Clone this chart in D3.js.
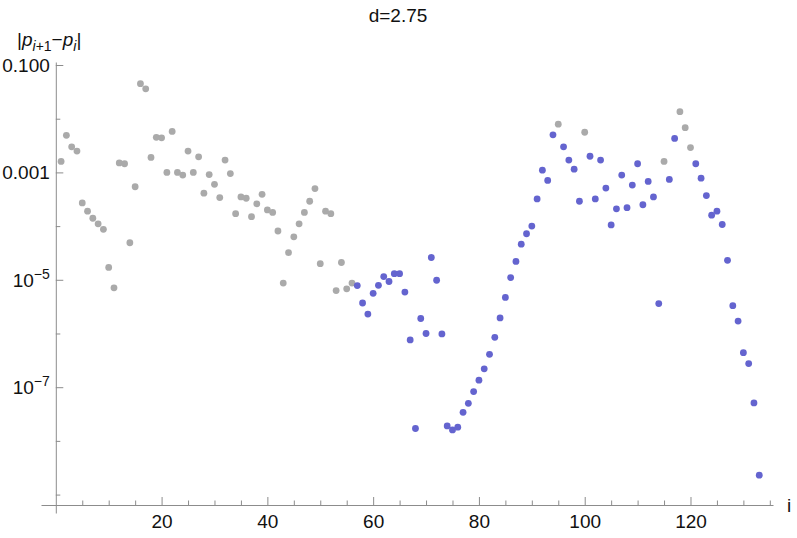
<!DOCTYPE html>
<html lang="en">
<head>
    <meta charset="utf-8">
    <title>d=2.75</title>
    <script type="text/javascript" src="https://d3js.org/d3.v7.min.js"></script>
    <style>
     body { margin: 0; background: white; }
     text { font-family: "Liberation Sans", Arial, sans-serif; fill: #111; }
     .axis path, .axis line { stroke: #8c8c8c; }
    </style>
</head>
<body>
    <div id="chart"></div>
    <script type="text/javascript">
        // gray series: index i and |p_{i+1} - p_i|
        const grayI = [1,2,3,4,5,6,7,8,9,10,11,12,13,14,15,16,17,18,19,20,
                       21,22,23,24,25,26,27,28,29,30,31,32,33,34,35,36,37,38,39,40,
                       41,42,43,44,45,46,47,48,49,50,51,52,53,54,55,56,
                       95,100,115,118,119,120];
        const grayV = [1.6e-3,4.9e-3,3.0e-3,2.5e-3,2.7e-4,1.9e-4,1.4e-4,1.1e-4,8.7e-5,1.7e-5,
                       7.1e-6,1.5e-3,1.45e-3,4.9e-5,5.4e-4,4.5e-2,3.6e-2,1.9e-3,4.5e-3,4.4e-3,
                       1.0e-3,5.8e-3,1.0e-3,8.9e-4,2.5e-3,1.0e-3,1.95e-3,4.1e-4,9.1e-4,6.0e-4,
                       3.4e-4,1.7e-3,9.5e-4,1.7e-4,3.5e-4,3.3e-4,1.5e-4,2.6e-4,3.9e-4,2.0e-4,
                       1.8e-4,8.1e-5,8.7e-6,3.2e-5,6.3e-5,1.1e-4,1.8e-4,2.9e-4,5.0e-4,2.0e-5,
                       1.9e-4,1.7e-4,6.3e-6,2.1e-5,6.8e-6,8.7e-6,
                       7.9e-3,5.6e-3,1.6e-3,1.35e-2,6.8e-3,2.9e-3];

        // blue series
        const blueI = [57,58,59,60,61,62,63,64,65,66,67,68,69,70,71,72,73,74,75,76,
                       77,78,79,80,81,82,83,84,85,86,87,88,89,90,91,92,93,94,96,97,
                       98,99,101,102,103,104,105,106,107,108,109,110,111,112,113,114,116,117,
                       121,122,123,124,125,126,127,128,129,130,131,132,133];
        const blueV = [7.8e-6,3.7e-6,2.3e-6,5.6e-6,7.9e-6,1.15e-5,9.3e-6,1.3e-5,1.3e-5,5.9e-6,
                       7.6e-7,1.7e-8,1.9e-6,1.0e-6,2.6e-5,9.8e-6,9.8e-7,1.9e-8,1.6e-8,1.8e-8,
                       3.4e-8,5.0e-8,8.3e-8,1.35e-7,2.2e-7,4.1e-7,8.5e-7,1.95e-6,4.7e-6,1.1e-5,
                       2.2e-5,4.6e-5,7.2e-5,1.0e-4,3.2e-4,1.1e-3,7.1e-4,5.0e-3,3.0e-3,1.7e-3,
                       1.15e-3,2.9e-4,2.0e-3,3.2e-4,1.7e-3,5.1e-4,1.05e-4,2.1e-4,8.9e-4,2.2e-4,
                       5.8e-4,1.45e-3,2.5e-4,6.8e-4,3.5e-4,3.6e-6,7.4e-4,4.3e-3,
                       1.45e-3,7.8e-4,3.7e-4,1.6e-4,1.9e-4,1.07e-4,2.3e-5,3.3e-6,1.7e-6,4.4e-7,
                       2.75e-7,5.1e-8,2.3e-9];

        const xTicks = [5,10,15,20,25,30,35,40,45,50,55,60,65,70,75,80,85,90,95,100,105,110,115,120,125,130,135];
        const xTickLabels = ["20","40","60","80","100","120"];
        const yTicksMajor = [1e-1,1e-3,1e-5,1e-7];
        const yTickLabels = ["0.100","0.001","10^\u22125","10^\u22127"];
        const yTicksMinor = [1e-2,1e-4,1e-6,1e-8,1e-9];

        const width = 797;
        const height = 538;
        const axisY = 505;   // where the horizontal axis sits

        const svg = d3.select("#chart")
            .append("svg")
            .attr("width", width)
            .attr("height", height);

        const xScale = d3.scaleLinear()
            .domain([-2.8, 135.6])
            .range([41, 773]);

        const yScale = d3.scaleLog()
            .domain([Math.pow(10, -9.343), Math.pow(10, -0.944)])
            .range([513, 62]);

        // x axis
        const xAxis = d3.axisBottom(xScale)
            .tickValues(xTicks)
            .tickSizeOuter(0)
            .tickSizeInner(-8)
            .tickPadding(11)
            .tickFormat(d => xTickLabels.includes(String(d)) ? d : "");

        const gx = svg.append("g")
            .attr("class", "axis")
            .attr("transform", "translate(0," + axisY + ")")
            .call(xAxis);
        gx.selectAll(".tick line")
            .attr("y2", d => xTickLabels.includes(String(d)) ? -8 : -4.5);
        gx.selectAll(".tick text")
            .attr("font-size", 19)
            .attr("font-family", "Liberation Sans, Arial, sans-serif")
            .attr("y", 10);

        // y axis
        const yAxis = d3.axisLeft(yScale)
            .tickValues(yTicksMajor.concat(yTicksMinor))
            .tickSizeOuter(0)
            .tickSizeInner(-8)
            .tickPadding(4)
            .tickFormat("");

        const x0 = xScale(0);
        const gy = svg.append("g")
            .attr("class", "axis")
            .attr("transform", "translate(" + x0 + ",0)")
            .call(yAxis);
        gy.selectAll(".tick line")
            .attr("x2", d => yTicksMajor.includes(d) ? 7.5 : 4.5);

        // y tick labels with superscripts
        yTicksMajor.forEach((v, k) => {
            const lab = yTickLabels[k];
            const t = svg.append("text")
                .attr("x", x0 - 6)
                .attr("y", yScale(v) + 7)
                .attr("text-anchor", "end")
                .attr("font-size", 19);
            if (lab.includes("^")) {
                const parts = lab.split("^");
                t.append("tspan").text(parts[0]);
                t.append("tspan").attr("font-size", 14).attr("dy", -8).text(parts[1]);
            } else {
                t.text(lab);
            }
        });

        // points
        const grayData = grayI.map((d, k) => ({i: d, v: grayV[k]}));
        const blueData = blueI.map((d, k) => ({i: d, v: blueV[k]}));

        svg.append("g")
            .selectAll("circle")
            .data(grayData)
            .enter()
            .append("circle")
                .attr("cx", d => xScale(d.i))
                .attr("cy", d => yScale(d.v))
                .attr("r", 3.4)
                .attr("fill", "#aaaaaa");

        svg.append("g")
            .selectAll("circle")
            .data(blueData)
            .enter()
            .append("circle")
                .attr("cx", d => xScale(d.i))
                .attr("cy", d => yScale(d.v))
                .attr("r", 3.4)
                .attr("fill", "#6464cf");

        // title and axis labels
        svg.append("text")
            .attr("x", 398)
            .attr("y", 22)
            .attr("text-anchor", "middle")
            .attr("font-size", 19)
            .text("d=2.75");

        const yl = svg.append("text")
            .attr("x", 17)
            .attr("y", 46)
            .attr("font-size", 19);
        yl.append("tspan").text("|");
        yl.append("tspan").attr("font-style", "italic").text("p");
        yl.append("tspan").attr("font-style", "italic").attr("font-size", 14).attr("dy", 5).text("i");
        yl.append("tspan").attr("font-size", 14).text("+1");
        yl.append("tspan").attr("dy", -5).text("\u2212");
        yl.append("tspan").attr("font-style", "italic").text("p");
        yl.append("tspan").attr("font-style", "italic").attr("font-size", 14).attr("dy", 5).text("i");
        yl.append("tspan").attr("dy", -5).text("|");

        svg.append("text")
            .attr("x", 787)
            .attr("y", 512)
            .attr("font-size", 19)
            .text("i");
    </script>
</body>
</html>
